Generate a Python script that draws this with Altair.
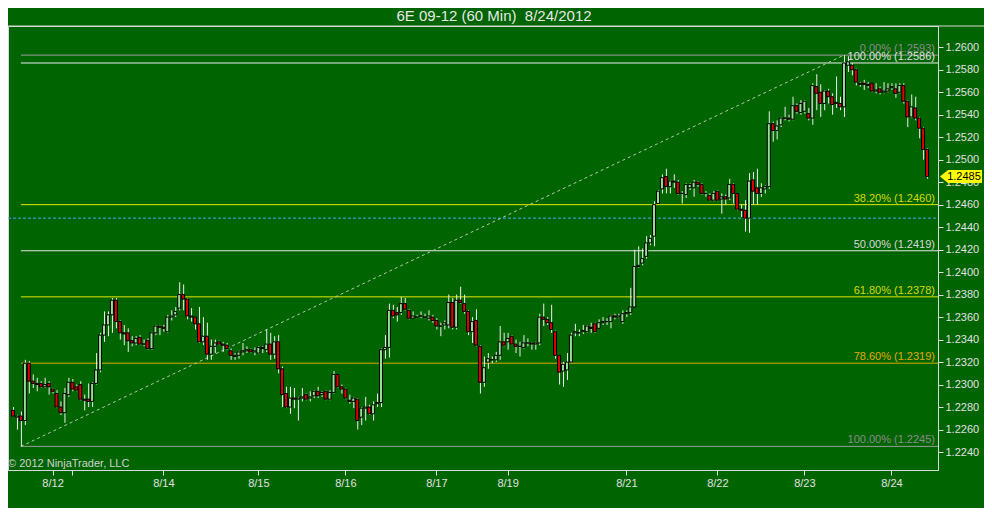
import altair as alt
import pandas as pd

TITLE = "6E 09-12 (60 Min)\u00a0 8/24/2012"
COPYRIGHT = "\u00a9 2012 NinjaTrader, LLC"

opens = [
    1.2277, 1.2271, 1.2272, 1.2268, 1.2319, 1.2303, 1.2301, 1.2301, 1.2298, 1.2301,
    1.2296, 1.2292, 1.2280, 1.2275, 1.2291, 1.2302, 1.2298, 1.2300, 1.2287, 1.2287,
    1.2285, 1.2301, 1.2313, 1.2344, 1.2353, 1.2362, 1.2375, 1.2356, 1.2346, 1.2346,
    1.2339, 1.2337, 1.2342, 1.2336, 1.2339, 1.2332, 1.2346, 1.2352, 1.2351, 1.2347,
    1.2360, 1.2362, 1.2368, 1.2380, 1.2376, 1.2361, 1.2360, 1.2354, 1.2338, 1.2343,
    1.2327, 1.2334, 1.2338, 1.2336, 1.2335, 1.2330, 1.2325, 1.2326, 1.2329, 1.2330,
    1.2331, 1.2329, 1.2328, 1.2333, 1.2331, 1.2336, 1.2327, 1.2338, 1.2314, 1.2292,
    1.2280, 1.2288, 1.2287, 1.2288, 1.2291, 1.2288, 1.2290, 1.2294, 1.2291, 1.2294,
    1.2287, 1.2293, 1.2309, 1.2298, 1.2296, 1.2286, 1.2285, 1.2287, 1.2271, 1.2279,
    1.2280, 1.2274, 1.2283, 1.2284, 1.2331, 1.2333, 1.2366, 1.2364, 1.2364, 1.2372,
    1.2366, 1.2359, 1.2360, 1.2361, 1.2360, 1.2359, 1.2360, 1.2357, 1.2352, 1.2353,
    1.2353, 1.2373, 1.2351, 1.2375, 1.2372, 1.2365, 1.2347, 1.2357, 1.2334, 1.2302,
    1.2320, 1.2322, 1.2322, 1.2326, 1.2338, 1.2338, 1.2343, 1.2336, 1.2334, 1.2333,
    1.2337, 1.2337, 1.2336, 1.2337, 1.2360, 1.2358, 1.2355, 1.2347, 1.2326, 1.2312,
    1.2313, 1.2320, 1.2346, 1.2346, 1.2347, 1.2347, 1.2351, 1.2354, 1.2350, 1.2355,
    1.2356, 1.2356, 1.2361, 1.2360, 1.2356, 1.2363, 1.2364, 1.2369, 1.2405, 1.2408,
    1.2414, 1.2426, 1.2432, 1.2461, 1.2474, 1.2485, 1.2476, 1.2481, 1.2480, 1.2470,
    1.2469, 1.2475, 1.2475, 1.2480, 1.2478, 1.2470, 1.2468, 1.2464, 1.2472, 1.2465,
    1.2467, 1.2466, 1.2478, 1.2470, 1.2456, 1.2455, 1.2448, 1.2482, 1.2475, 1.2470,
    1.2474, 1.2476, 1.2532, 1.2526, 1.2531, 1.2537, 1.2537, 1.2536, 1.2548, 1.2542,
    1.2543, 1.2541, 1.2537, 1.2565, 1.2560, 1.2550, 1.2561, 1.2556, 1.2551, 1.2550,
    1.2547, 1.2584, 1.2584, 1.2580, 1.2568, 1.2568, 1.2567, 1.2568, 1.2561, 1.2563,
    1.2560, 1.2561, 1.2564, 1.2563, 1.2560, 1.2566, 1.2552, 1.2538, 1.2546, 1.2537,
    1.2528, 1.2509,
]

highs = [
    1.2280, 1.2273, 1.2276, 1.2322, 1.2321, 1.2309, 1.2306, 1.2303, 1.2306, 1.2303,
    1.2297, 1.2295, 1.2285, 1.2297, 1.2306, 1.2305, 1.2300, 1.2303, 1.2291, 1.2301,
    1.2302, 1.2328, 1.2346, 1.2365, 1.2365, 1.2377, 1.2377, 1.2357, 1.2353, 1.2350,
    1.2343, 1.2343, 1.2344, 1.2340, 1.2341, 1.2347, 1.2353, 1.2353, 1.2353, 1.2362,
    1.2366, 1.2369, 1.2391, 1.2389, 1.2377, 1.2368, 1.2360, 1.2369, 1.2360, 1.2355,
    1.2340, 1.2340, 1.2339, 1.2338, 1.2337, 1.2332, 1.2328, 1.2330, 1.2337, 1.2334,
    1.2332, 1.2333, 1.2334, 1.2334, 1.2349, 1.2346, 1.2343, 1.2344, 1.2316, 1.2298,
    1.2298, 1.2297, 1.2289, 1.2297, 1.2292, 1.2294, 1.2295, 1.2298, 1.2294, 1.2295,
    1.2295, 1.2312, 1.2309, 1.2300, 1.2297, 1.2291, 1.2289, 1.2288, 1.2280, 1.2289,
    1.2282, 1.2285, 1.2292, 1.2332, 1.2344, 1.2372, 1.2371, 1.2369, 1.2378, 1.2377,
    1.2367, 1.2365, 1.2362, 1.2365, 1.2363, 1.2366, 1.2362, 1.2359, 1.2355, 1.2357,
    1.2380, 1.2377, 1.2380, 1.2387, 1.2380, 1.2366, 1.2360, 1.2367, 1.2335, 1.2325,
    1.2328, 1.2325, 1.2329, 1.2352, 1.2346, 1.2346, 1.2344, 1.2340, 1.2338, 1.2344,
    1.2341, 1.2338, 1.2338, 1.2363, 1.2372, 1.2360, 1.2371, 1.2348, 1.2326, 1.2320,
    1.2328, 1.2346, 1.2354, 1.2349, 1.2353, 1.2353, 1.2355, 1.2355, 1.2358, 1.2360,
    1.2359, 1.2362, 1.2363, 1.2363, 1.2366, 1.2366, 1.2386, 1.2420, 1.2423, 1.2421,
    1.2432, 1.2433, 1.2463, 1.2473, 1.2487, 1.2492, 1.2482, 1.2487, 1.2482, 1.2472,
    1.2479, 1.2479, 1.2482, 1.2481, 1.2479, 1.2472, 1.2470, 1.2472, 1.2473, 1.2470,
    1.2469, 1.2483, 1.2479, 1.2470, 1.2460, 1.2464, 1.2488, 1.2489, 1.2492, 1.2479,
    1.2477, 1.2543, 1.2534, 1.2535, 1.2538, 1.2547, 1.2540, 1.2556, 1.2550, 1.2553,
    1.2553, 1.2546, 1.2568, 1.2576, 1.2567, 1.2562, 1.2563, 1.2559, 1.2574, 1.2556,
    1.2593, 1.2592, 1.2586, 1.2581, 1.2569, 1.2571, 1.2569, 1.2568, 1.2568, 1.2565,
    1.2569, 1.2568, 1.2568, 1.2568, 1.2568, 1.2568, 1.2553, 1.2558, 1.2556, 1.2538,
    1.2529, 1.2510,
]

lows = [
    1.2272, 1.2260, 1.2245, 1.2264, 1.2292, 1.2297, 1.2294, 1.2297, 1.2297, 1.2291,
    1.2292, 1.2279, 1.2273, 1.2266, 1.2289, 1.2294, 1.2294, 1.2286, 1.2277, 1.2280,
    1.2280, 1.2300, 1.2311, 1.2338, 1.2343, 1.2346, 1.2350, 1.2340, 1.2335, 1.2329,
    1.2334, 1.2335, 1.2335, 1.2334, 1.2331, 1.2331, 1.2344, 1.2344, 1.2347, 1.2346,
    1.2357, 1.2360, 1.2366, 1.2366, 1.2358, 1.2356, 1.2349, 1.2337, 1.2335, 1.2322,
    1.2322, 1.2328, 1.2335, 1.2329, 1.2331, 1.2322, 1.2322, 1.2323, 1.2326, 1.2328,
    1.2328, 1.2326, 1.2327, 1.2328, 1.2329, 1.2322, 1.2323, 1.2310, 1.2280, 1.2279,
    1.2274, 1.2279, 1.2268, 1.2285, 1.2286, 1.2285, 1.2288, 1.2288, 1.2289, 1.2286,
    1.2286, 1.2292, 1.2297, 1.2292, 1.2287, 1.2283, 1.2279, 1.2260, 1.2264, 1.2268,
    1.2273, 1.2268, 1.2280, 1.2280, 1.2323, 1.2324, 1.2359, 1.2356, 1.2362, 1.2366,
    1.2358, 1.2359, 1.2359, 1.2359, 1.2359, 1.2357, 1.2355, 1.2349, 1.2343, 1.2349,
    1.2350, 1.2349, 1.2349, 1.2372, 1.2363, 1.2344, 1.2337, 1.2334, 1.2292, 1.2298,
    1.2314, 1.2319, 1.2320, 1.2322, 1.2334, 1.2331, 1.2335, 1.2328, 1.2325, 1.2332,
    1.2334, 1.2331, 1.2331, 1.2335, 1.2352, 1.2353, 1.2346, 1.2323, 1.2300, 1.2298,
    1.2304, 1.2319, 1.2343, 1.2343, 1.2345, 1.2346, 1.2346, 1.2346, 1.2350, 1.2353,
    1.2353, 1.2350, 1.2358, 1.2359, 1.2354, 1.2360, 1.2362, 1.2369, 1.2404, 1.2406,
    1.2412, 1.2424, 1.2423, 1.2460, 1.2470, 1.2470, 1.2470, 1.2475, 1.2469, 1.2461,
    1.2466, 1.2473, 1.2467, 1.2476, 1.2469, 1.2467, 1.2463, 1.2463, 1.2463, 1.2452,
    1.2460, 1.2464, 1.2461, 1.2455, 1.2449, 1.2436, 1.2435, 1.2460, 1.2460, 1.2467,
    1.2470, 1.2474, 1.2516, 1.2518, 1.2529, 1.2535, 1.2534, 1.2535, 1.2541, 1.2540,
    1.2541, 1.2535, 1.2531, 1.2544, 1.2538, 1.2544, 1.2550, 1.2540, 1.2546, 1.2544,
    1.2538, 1.2578, 1.2575, 1.2566, 1.2565, 1.2562, 1.2564, 1.2560, 1.2559, 1.2558,
    1.2559, 1.2560, 1.2562, 1.2555, 1.2559, 1.2550, 1.2529, 1.2537, 1.2535, 1.2519,
    1.2500, 1.2483,
]

closes = [
    1.2272, 1.2272, 1.2268, 1.2319, 1.2303, 1.2301, 1.2300, 1.2298, 1.2300, 1.2298,
    1.2294, 1.2280, 1.2275, 1.2292, 1.2302, 1.2296, 1.2295, 1.2287, 1.2286, 1.2285,
    1.2301, 1.2313, 1.2344, 1.2353, 1.2362, 1.2375, 1.2356, 1.2346, 1.2345, 1.2339,
    1.2337, 1.2341, 1.2336, 1.2336, 1.2332, 1.2346, 1.2352, 1.2351, 1.2350, 1.2360,
    1.2361, 1.2365, 1.2380, 1.2376, 1.2361, 1.2360, 1.2354, 1.2338, 1.2343, 1.2327,
    1.2334, 1.2337, 1.2336, 1.2335, 1.2332, 1.2326, 1.2326, 1.2329, 1.2330, 1.2331,
    1.2329, 1.2330, 1.2333, 1.2332, 1.2336, 1.2327, 1.2338, 1.2314, 1.2291, 1.2280,
    1.2288, 1.2287, 1.2288, 1.2289, 1.2287, 1.2289, 1.2294, 1.2290, 1.2293, 1.2287,
    1.2293, 1.2309, 1.2298, 1.2296, 1.2288, 1.2285, 1.2288, 1.2268, 1.2279, 1.2280,
    1.2274, 1.2282, 1.2284, 1.2331, 1.2333, 1.2366, 1.2361, 1.2362, 1.2372, 1.2367,
    1.2359, 1.2361, 1.2360, 1.2361, 1.2360, 1.2361, 1.2357, 1.2352, 1.2352, 1.2355,
    1.2373, 1.2351, 1.2375, 1.2373, 1.2365, 1.2347, 1.2356, 1.2335, 1.2302, 1.2315,
    1.2323, 1.2322, 1.2326, 1.2338, 1.2335, 1.2341, 1.2336, 1.2334, 1.2334, 1.2337,
    1.2337, 1.2336, 1.2337, 1.2360, 1.2358, 1.2355, 1.2349, 1.2326, 1.2311, 1.2318,
    1.2320, 1.2344, 1.2347, 1.2346, 1.2348, 1.2352, 1.2350, 1.2347, 1.2355, 1.2356,
    1.2356, 1.2361, 1.2360, 1.2361, 1.2363, 1.2364, 1.2369, 1.2405, 1.2406, 1.2412,
    1.2426, 1.2430, 1.2460, 1.2472, 1.2484, 1.2476, 1.2481, 1.2480, 1.2470, 1.2470,
    1.2478, 1.2478, 1.2480, 1.2478, 1.2470, 1.2470, 1.2464, 1.2470, 1.2464, 1.2467,
    1.2465, 1.2478, 1.2470, 1.2456, 1.2455, 1.2448, 1.2481, 1.2472, 1.2470, 1.2475,
    1.2476, 1.2532, 1.2526, 1.2530, 1.2537, 1.2537, 1.2536, 1.2548, 1.2543, 1.2550,
    1.2552, 1.2537, 1.2566, 1.2559, 1.2550, 1.2561, 1.2556, 1.2549, 1.2550, 1.2547,
    1.2586, 1.2587, 1.2580, 1.2569, 1.2567, 1.2567, 1.2566, 1.2561, 1.2562, 1.2560,
    1.2561, 1.2563, 1.2565, 1.2559, 1.2566, 1.2552, 1.2538, 1.2547, 1.2537, 1.2528,
    1.2509, 1.2485,
]

y_ticks = [1.2240, 1.2260, 1.2280, 1.2300, 1.2320, 1.2340, 1.2360, 1.2380, 1.2400,
           1.2420, 1.2440, 1.2460, 1.2480, 1.2500, 1.2520, 1.2540, 1.2560, 1.2580, 1.2600]
x_tick_bars = [10, 15, 38, 62, 84, 107, 125, 155, 178, 200, 222]
x_tick_labels = ["8/12", "", "8/14", "8/15", "8/16", "8/17", "8/19", "8/21", "8/22", "8/23", "8/24"]

fib_labels = ["0.00% (1.2593)", "100.00% (1.2586)", "38.20% (1.2460)", "50.00% (1.2419)",
              "61.80% (1.2378)", "78.60% (1.2319)", "100.00% (1.2245)"]
fib_prices = [1.2593, 1.2586, 1.2460, 1.2419, 1.2378, 1.2319, 1.2245]
fib_line_colors = ["#9a9a9a", "#eeeeee", "#e8e800", "#e6e6e6", "#e8e800", "#e0a800", "#9a9a9a"]
fib_text_colors = ["#8c8c8c", "#e0e0e0", "#d8d800", "#d8d8d8", "#d8d800", "#e0a800", "#8c8c8c"]
fib_start_bar = 2

trend_bars = [2, 210]
trend_prices = [1.2245, 1.2593]

blue_level = 1.2448
last_price = 1.2485

BG = "#006400"
FG = "#e0e0e0"
FRAME = "#d8d8d8"
UP = "#96e096"
DOWN = "#e00000"
WICK = "#eeeeee"
FONT = "Liberation Sans"

n = len(opens)
df = pd.DataFrame({"i": list(range(n)), "open": opens, "high": highs, "low": lows, "close": closes})
df["body_lo"] = df[["open", "close"]].min(axis=1)
df["body_hi"] = df[["open", "close"]].max(axis=1)

fib_df = pd.DataFrame({"i": [fib_start_bar] * len(fib_prices), "price": fib_prices,
                       "label": fib_labels, "lc": fib_line_colors, "tc": fib_text_colors})
trend_df = pd.DataFrame({"i": trend_bars, "price": trend_prices})
blue_df = pd.DataFrame({"price": [blue_level]})
last_df = pd.DataFrame({"price": [last_price], "txt": [f"{last_price:.4f}"]})
title_df = pd.DataFrame({"t": [TITLE]})
copy_df = pd.DataFrame({"t": [COPYRIGHT]})

xs = alt.Scale(domain=[0, 232.5], nice=False, zero=False)
ys = alt.Scale(domain=[1.2224, 1.26189], nice=False, zero=False)

label_expr = " : ".join(f"datum.value == {b} ? '{l}'" for b, l in zip(x_tick_bars, x_tick_labels)) + " : ''"

x_axis = alt.Axis(orient="bottom", values=x_tick_bars, labelExpr=label_expr, title=None, grid=False,
                  tickSize=5, tickColor=FG, domainColor=FRAME, labelColor=FG, labelFont=FONT,
                  labelFontSize=11, labelPadding=2, labelFlush=False, labelOverlap=False)
y_axis = alt.Axis(orient="right", values=y_ticks, format=".4f", title=None, grid=False,
                  tickSize=5, tickColor=FG, domainColor=FRAME, labelColor=FG, labelFont=FONT,
                  labelFontSize=11, labelPadding=2, labelFlush=False, labelOverlap=False)


def X(f="i"):
    return alt.X(f"{f}:Q", scale=xs, axis=x_axis)


def Y(f):
    return alt.Y(f"{f}:Q", scale=ys, axis=y_axis)


top_line = alt.Chart(title_df).mark_rule(color=FRAME, strokeWidth=1).encode(
    x=alt.value(0), x2=alt.value(976), y=alt.value(0))

title = alt.Chart(title_df).mark_text(align="center", baseline="middle", font=FONT, fontSize=15,
                                      color="#e8e8e8").encode(
    x=alt.value(486), y=alt.value(-10), text="t:N")

fib_lines = alt.Chart(fib_df).mark_rule(strokeWidth=1).encode(
    x=X("i"), x2=alt.value(930), y=Y("price"), color=alt.Color("lc:N", scale=None))

fib_text = alt.Chart(fib_df).mark_text(align="right", baseline="alphabetic", dy=-3, font=FONT,
                                       fontSize=11).encode(
    x=alt.value(927), y=Y("price"), text="label:N", color=alt.Color("tc:N", scale=None))

blue_line = alt.Chart(blue_df).mark_rule(color="#48a8f0", strokeWidth=1, strokeDash=[3, 2]).encode(
    x=alt.value(0), x2=alt.value(930), y=Y("price"))

trend = alt.Chart(trend_df).mark_line(color="#b4c8b4", strokeWidth=1, strokeDash=[3, 3]).encode(
    x=X("i"), y=Y("price"))

wicks = alt.Chart(df).mark_rule(color=WICK, strokeWidth=1, xOffset=0.5).encode(
    x=X("i"), y=Y("low"), y2="high:Q")

bodies = alt.Chart(df).mark_bar(size=3, stroke="#000000", strokeWidth=1).encode(
    x=X("i"), y=Y("body_lo"), y2="body_hi:Q",
    fill=alt.condition("datum.close >= datum.open", alt.value(UP), alt.value(DOWN)))

copyright_txt = alt.Chart(copy_df).mark_text(align="left", baseline="middle", font=FONT, fontSize=11,
                                             color="#d0d0d0").encode(
    x=alt.value(0), y=alt.value(438), text="t:N")

marker = alt.Chart(last_df).mark_point(
    shape="M-1,0L-0.62,-0.31L1,-0.31L1,0.31L-0.62,0.31Z", size=1764, filled=True,
    fill="#ffff00", opacity=1, strokeWidth=0).encode(x=alt.value(953), y=Y("price"))

marker_txt = alt.Chart(last_df).mark_text(align="center", baseline="middle", font=FONT, fontSize=11,
                                          color="#000000").encode(
    x=alt.value(956), y=Y("price"), text="txt:N")

chart = alt.layer(
    top_line, fib_lines, blue_line, trend, wicks, bodies, fib_text, title, copyright_txt, marker, marker_txt
).properties(
    width=930, height=444,
    autosize=alt.AutoSizeParams(type="none"),
    padding={"left": 0, "top": 18, "right": 46, "bottom": 38},
).configure(background=BG).configure_view(stroke=FRAME, strokeWidth=1)

chart.save("out.html", embed_options={"renderer": "svg", "actions": False})
